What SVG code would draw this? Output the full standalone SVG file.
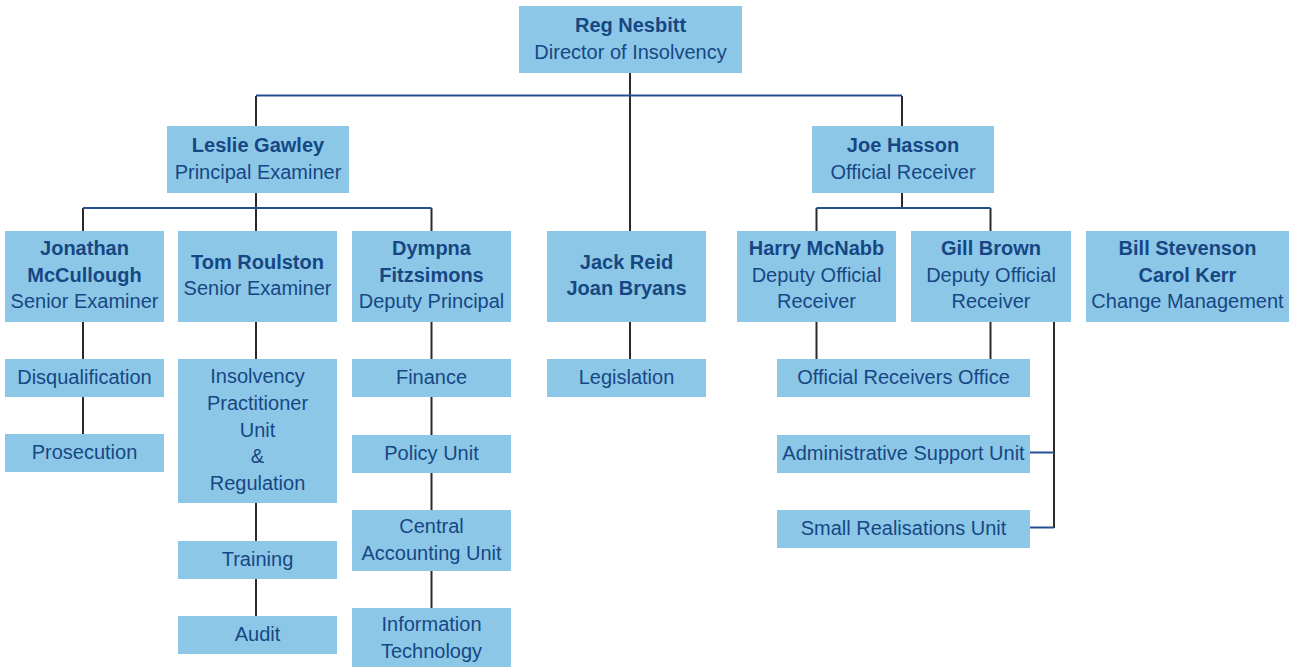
<svg xmlns="http://www.w3.org/2000/svg" width="1298" height="667" viewBox="0 0 1298 667">
<style>
.box{fill:#8cc7e8}
.t{font-family:"Liberation Sans",Arial,sans-serif;font-size:20px;fill:#174783;text-anchor:middle}
.b{font-weight:bold}
.h{stroke:#24508f;stroke-width:2;fill:none}
.v{stroke:#2b2b2b;stroke-width:2;fill:none}
</style>
<rect width="1298" height="667" fill="#ffffff"/>
<g id="connectors">
<path class="v" d="M630,73V231M256,96V126M902,96V126M630,322V359"/>
<path class="h" d="M256,95.5H902"/>
<path class="v" d="M256,193V208M83,208V231M256,208V231M431.5,208V231"/>
<path class="h" d="M83,208H431.5"/>
<path class="v" d="M902,193V208M816.5,208V231M990.5,208V231"/>
<path class="h" d="M816.5,208H990.5"/>
<path class="v" d="M83,322V359M83,397V434"/>
<path class="v" d="M256,322V359M256,503V541M256,579V616"/>
<path class="v" d="M431.5,322V359M431.5,397V435M431.5,473V510M431.5,571V608"/>
<path class="v" d="M816.5,322V359M990.5,322V359M1054,322V528"/>
<path class="h" d="M1030,452.5H1054M1030,527.5H1054"/>
</g>
<g id="reg"><rect class="box" x="519" y="6" width="223" height="67"/><text class="t b" x="630.5" y="32">Reg Nesbitt</text><text class="t" x="630.5" y="59">Director of Insolvency</text></g>
<g id="leslie"><rect class="box" x="167" y="126" width="182" height="67"/><text class="t b" x="258" y="152">Leslie Gawley</text><text class="t" x="258" y="179">Principal Examiner</text></g>
<g id="joe"><rect class="box" x="812" y="126" width="182" height="67"/><text class="t b" x="903" y="152">Joe Hasson</text><text class="t" x="903" y="179">Official Receiver</text></g>
<g id="jonathan"><rect class="box" x="5" y="231" width="159" height="91"/><text class="t b" x="84.5" y="255">Jonathan</text><text class="t b" x="84.5" y="282">McCullough</text><text class="t" x="84.5" y="308">Senior Examiner</text></g>
<g id="tom"><rect class="box" x="178" y="231" width="159" height="91"/><text class="t b" x="257.5" y="269">Tom Roulston</text><text class="t" x="257.5" y="295">Senior Examiner</text></g>
<g id="dympna"><rect class="box" x="352" y="231" width="159" height="91"/><text class="t b" x="431.5" y="255">Dympna</text><text class="t b" x="431.5" y="282">Fitzsimons</text><text class="t" x="431.5" y="308">Deputy Principal</text></g>
<g id="jack"><rect class="box" x="547" y="231" width="159" height="91"/><text class="t b" x="626.5" y="269">Jack Reid</text><text class="t b" x="626.5" y="295">Joan Bryans</text></g>
<g id="harry"><rect class="box" x="737" y="231" width="159" height="91"/><text class="t b" x="816.5" y="255">Harry McNabb</text><text class="t" x="816.5" y="282">Deputy Official</text><text class="t" x="816.5" y="308">Receiver</text></g>
<g id="gill"><rect class="box" x="911" y="231" width="160" height="91"/><text class="t b" x="991" y="255">Gill Brown</text><text class="t" x="991" y="282">Deputy Official</text><text class="t" x="991" y="308">Receiver</text></g>
<g id="bill"><rect class="box" x="1086" y="231" width="203" height="91"/><text class="t b" x="1187.5" y="255">Bill Stevenson</text><text class="t b" x="1187.5" y="282">Carol Kerr</text><text class="t" x="1187.5" y="308">Change Management</text></g>
<g id="disqualification"><rect class="box" x="5" y="359" width="159" height="38"/><text class="t" x="84.5" y="384">Disqualification</text></g>
<g id="prosecution"><rect class="box" x="5" y="434" width="159" height="38"/><text class="t" x="84.5" y="459">Prosecution</text></g>
<g id="ipu"><rect class="box" x="178" y="359" width="159" height="144"/><text class="t" x="257.5" y="383">Insolvency</text><text class="t" x="257.5" y="410">Practitioner</text><text class="t" x="257.5" y="436.5">Unit</text><text class="t" x="257.5" y="463">&amp;</text><text class="t" x="257.5" y="489.5">Regulation</text></g>
<g id="training"><rect class="box" x="178" y="541" width="159" height="38"/><text class="t" x="257.5" y="566">Training</text></g>
<g id="audit"><rect class="box" x="178" y="616" width="159" height="38"/><text class="t" x="257.5" y="641">Audit</text></g>
<g id="finance"><rect class="box" x="352" y="359" width="159" height="38"/><text class="t" x="431.5" y="384">Finance</text></g>
<g id="policy"><rect class="box" x="352" y="435" width="159" height="38"/><text class="t" x="431.5" y="460">Policy Unit</text></g>
<g id="cau"><rect class="box" x="352" y="510" width="159" height="61"/><text class="t" x="431.5" y="533">Central</text><text class="t" x="431.5" y="559.5">Accounting Unit</text></g>
<g id="it"><rect class="box" x="352" y="608" width="159" height="59"/><text class="t" x="431.5" y="631">Information</text><text class="t" x="431.5" y="658">Technology</text></g>
<g id="legislation"><rect class="box" x="547" y="359" width="159" height="38"/><text class="t" x="626.5" y="384">Legislation</text></g>
<g id="oro"><rect class="box" x="777" y="359" width="253" height="38"/><text class="t" x="903.5" y="384">Official Receivers Office</text></g>
<g id="asu"><rect class="box" x="777" y="435" width="253" height="38"/><text class="t" x="903.5" y="460">Administrative Support Unit</text></g>
<g id="sru"><rect class="box" x="777" y="510" width="253" height="38"/><text class="t" x="903.5" y="535">Small Realisations Unit</text></g>
</svg>
